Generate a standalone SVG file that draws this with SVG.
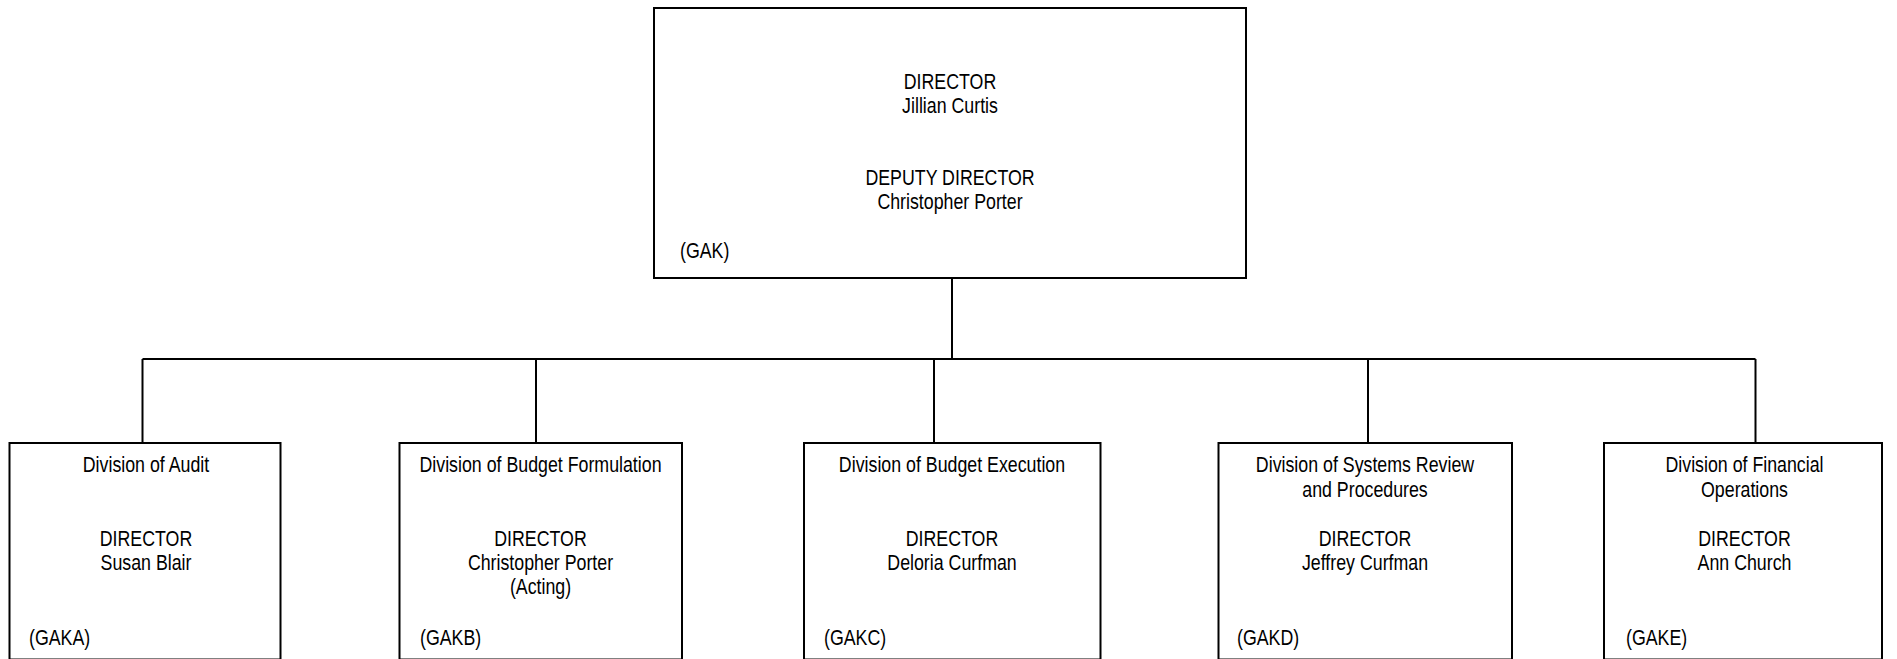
<svg xmlns="http://www.w3.org/2000/svg" width="1897" height="659" viewBox="0 0 1897 659">
<style>
.box{fill:#fff;stroke:#000;stroke-width:2}
.con{fill:none;stroke:#000;stroke-width:2}
text{font-family:"Liberation Sans Narrow","Liberation Sans",Arial,sans-serif;font-size:21.3px;fill:#000}
.c{text-anchor:middle}
</style>
<rect width="1897" height="659" fill="#fff"/>
<g id="connectors">
<path class="con" d="M952 278V359M142.5 359H1755.5M142.5 359V443M536 359V443M934 359V443M1368 359V443M1755.5 359V443"/>
</g>
<g id="node-gak">
<rect class="box" x="654" y="8" width="592" height="270"/>
<g transform="translate(950 0) scale(0.835 1)">
<text class="c" x="0" y="89">DIRECTOR</text>
<text class="c" x="0" y="113">Jillian Curtis</text>
<text class="c" x="0" y="185">DEPUTY DIRECTOR</text>
<text class="c" x="0" y="209.5">Christopher Porter</text>
</g>
<g transform="translate(680 0) scale(0.835 1)"><text x="0" y="258.5">(GAK)</text></g>
</g>
<g id="node-gaka">
<rect class="box" x="9.5" y="443" width="271" height="216.5"/>
<g transform="translate(146 0) scale(0.835 1)">
<text class="c" x="0" y="472.5">Division of Audit</text>
<text class="c" x="0" y="546">DIRECTOR</text>
<text class="c" x="0" y="570">Susan Blair</text>
</g>
<g transform="translate(29 0) scale(0.835 1)"><text x="0" y="645">(GAKA)</text></g>
</g>
<g id="node-gakb">
<rect class="box" x="399.5" y="443" width="282.5" height="216.5"/>
<g transform="translate(540.5 0) scale(0.835 1)">
<text class="c" x="0" y="472.5">Division of Budget Formulation</text>
<text class="c" x="0" y="546">DIRECTOR</text>
<text class="c" x="0" y="570">Christopher Porter</text>
<text class="c" x="0" y="594">(Acting)</text>
</g>
<g transform="translate(420 0) scale(0.835 1)"><text x="0" y="645">(GAKB)</text></g>
</g>
<g id="node-gakc">
<rect class="box" x="804" y="443" width="296.5" height="216.5"/>
<g transform="translate(952 0) scale(0.835 1)">
<text class="c" x="0" y="472.5">Division of Budget Execution</text>
<text class="c" x="0" y="546">DIRECTOR</text>
<text class="c" x="0" y="570">Deloria Curfman</text>
</g>
<g transform="translate(824 0) scale(0.835 1)"><text x="0" y="645">(GAKC)</text></g>
</g>
<g id="node-gakd">
<rect class="box" x="1218.5" y="443" width="293.5" height="216.5"/>
<g transform="translate(1365 0) scale(0.835 1)">
<text class="c" x="0" y="472.5">Division of Systems Review</text>
<text class="c" x="0" y="497">and Procedures</text>
<text class="c" x="0" y="546">DIRECTOR</text>
<text class="c" x="0" y="570">Jeffrey Curfman</text>
</g>
<g transform="translate(1237 0) scale(0.835 1)"><text x="0" y="645">(GAKD)</text></g>
</g>
<g id="node-gake">
<rect class="box" x="1604" y="443" width="278" height="216.5"/>
<g transform="translate(1744.5 0) scale(0.835 1)">
<text class="c" x="0" y="472.5">Division of Financial</text>
<text class="c" x="0" y="497">Operations</text>
<text class="c" x="0" y="546">DIRECTOR</text>
<text class="c" x="0" y="570">Ann Church</text>
</g>
<g transform="translate(1626 0) scale(0.835 1)"><text x="0" y="645">(GAKE)</text></g>
</g>
</svg>
